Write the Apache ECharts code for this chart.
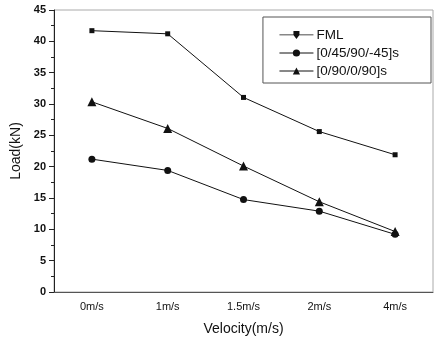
<!DOCTYPE html>
<html><head><meta charset="utf-8">
<script src="https://cdn.jsdelivr.net/npm/echarts@6/dist/echarts.min.js"></script>
<style>html,body{margin:0;padding:0;background:#fff}#c{width:435px;height:341px}</style>
</head><body><div id="c"></div>
<script>
const categories = ['0m/s', '1m/s', '1.5m/s', '2m/s', '4m/s'];
const fml = [41.7, 41.2, 31.05, 25.6, 21.9];
const quasiIso = [21.2, 19.4, 14.75, 12.9, 9.2];
const crossPly = [30.35, 26.1, 20.1, 14.4, 9.65];
const yTicks = [0, 5, 10, 15, 20, 25, 30, 35, 40, 45];

const chart = echarts.init(document.getElementById('c'));
const font = 'Liberation Sans, Arial, sans-serif';
const lineStyle = {color: '#111', width: 1};
chart.setOption({
  animation: false,
  textStyle: {fontFamily: font},
  grid: {left: 54, right: 2, top: 10, bottom: 49, show: true, borderColor: '#aaa', borderWidth: 1},
  legend: {
    right: 4, top: 17, orient: 'vertical', itemGap: 4, itemWidth: 34, itemHeight: 9,
    padding: [11, 32, 5, 16],
    borderColor: '#555', borderWidth: 1,
    lineStyle: {width: 1},
    textStyle: {fontSize: 13.5, color: '#111', fontFamily: font, padding: [0, 0, 0, -2]},
    data: [
      {name: 'FML', icon: 'path://M0,4.5 H34 V5.3 H0 Z M14,1 H20 V5 L17,9 L14,5 Z'},
      {name: '[0/45/90/-45]s'},
      {name: '[0/90/0/90]s'}
    ]
  },
  xAxis: {
    type: 'category', data: categories, boundaryGap: true,
    name: 'Velocity(m/s)', nameLocation: 'middle', nameGap: 30,
    nameTextStyle: {fontSize: 14, color: '#111'},
    axisLine: {lineStyle: {color: '#555', width: 1}},
    axisTick: {alignWithLabel: true, length: 5, lineStyle: {color: '#333'}},
    axisLabel: {fontSize: 11, color: '#111', margin: 9}
  },
  yAxis: {
    type: 'value', min: 0, max: 45, interval: 5,
    name: 'Load(kN)', nameLocation: 'middle', nameGap: 27,
    nameTextStyle: {fontSize: 14, color: '#111'},
    axisLine: {show: true, lineStyle: {color: '#222', width: 1}},
    axisTick: {show: true, length: 5, lineStyle: {color: '#222'}},
    minorTick: {show: true, splitNumber: 2, length: 3, lineStyle: {color: '#222'}},
    splitLine: {show: false},
    axisLabel: {fontSize: 11, fontWeight: 'bold', color: '#111', margin: 8, formatter: v => yTicks.includes(v) ? String(v) : ''}
  },
  series: [
    {name: 'FML', type: 'line', data: fml, symbol: 'rect', symbolSize: 5,
     lineStyle: lineStyle, itemStyle: {color: '#111'}},
    {name: '[0/45/90/-45]s', type: 'line', data: quasiIso, symbol: 'circle', symbolSize: 7,
     lineStyle: lineStyle, itemStyle: {color: '#111'}},
    {name: '[0/90/0/90]s', type: 'line', data: crossPly, symbol: 'triangle', symbolSize: 9,
     lineStyle: lineStyle, itemStyle: {color: '#111'}}
  ]
});
</script></body></html>
